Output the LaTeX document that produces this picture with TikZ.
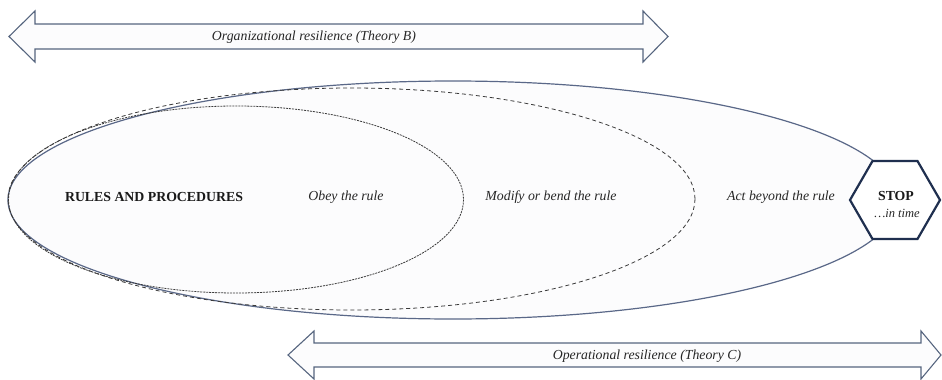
\documentclass[tikz,border=0pt]{standalone}
\usepackage{fontspec}
\setmainfont{Liberation Serif}
\usetikzlibrary{shapes.geometric}
\definecolor{arrline}{HTML}{56657F}
\definecolor{arrfill}{HTML}{FCFCFD}
\definecolor{ellfill}{HTML}{FCFCFD}
\definecolor{outerline}{HTML}{5A6888}
\definecolor{hexline}{HTML}{1F2F4F}
\definecolor{dashline}{HTML}{3A3A3A}
\tikzset{
  bigarrow/.style={draw=arrline, fill=arrfill, line width=1.1pt, line join=miter},
  lbl/.style={font=\fontsize{13.8}{15}\selectfont\itshape, text=black!85, inner sep=0pt},
  blbl/.style={font=\fontsize{13.8}{15}\selectfont\bfseries, text=black!90, inner sep=0pt},
  innerell/.style={draw=dashline, line width=0.8pt, dash pattern=on 2pt off 1pt},
  midell/.style={draw=dashline, line width=0.8pt, dash pattern=on 4pt off 3pt},
  outerell/.style={draw=outerline, fill=ellfill, line width=1.2pt},
  hexbox/.style={shape=regular polygon, regular polygon sides=6, minimum size=90pt, draw=hexline, fill=white, line width=2.2pt, inner sep=0pt}
}
\begin{document}
\begin{tikzpicture}[x=1pt, y=-1pt]
\useasboundingbox (0,0) rectangle (942,380);
% top arrow
\draw[bigarrow] (9,36.5) -- (35,11) -- (35,24) -- (643,24) -- (643,11) -- (668,36.5) -- (643,62) -- (643,49) -- (35,49) -- (35,62) -- cycle;
\node[lbl] (orgres) at (314,37) {Organizational resilience (Theory B)};
% ellipses
\draw[outerell] (453,200) ellipse [x radius=445, y radius=119];
\draw[midell] (351.5,199) ellipse [x radius=343.5, y radius=111];
\draw[innerell] (236,199.5) ellipse [x radius=227.5, y radius=93.5];
% hexagon
\node[hexbox] (stop) at (895,200) {};
\node[blbl] (stoptxt) at (896,196) {STOP};
\node[lbl, font=\fontsize{12.5}{14}\selectfont\itshape] (intime) at (897,213) {\ldots in time};
% texts
\node[blbl] (rules) at (154,197) {RULES AND PROCEDURES};
\node[lbl] (obey) at (346,197) {Obey the rule};
\node[lbl] (modify) at (551,197) {Modify or bend the rule};
\node[lbl] (act) at (781,197) {Act beyond the rule};
% bottom arrow
\draw[bigarrow] (288,355) -- (314,331) -- (314,343) -- (921,343) -- (921,331) -- (941,355) -- (921,379) -- (921,367) -- (314,367) -- (314,379) -- cycle;
\node[lbl] (opres) at (647,356) {Operational resilience (Theory C)};
\end{tikzpicture}
\end{document}
